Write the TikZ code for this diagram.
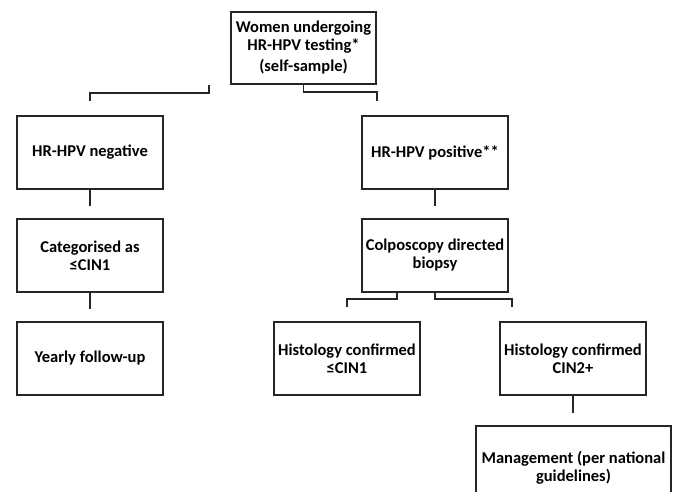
\documentclass[tikz,border=0pt]{standalone}
\usepackage{fontspec}
\setmainfont{Carlito}
\usetikzlibrary{positioning}

\begin{document}
\begin{tikzpicture}[x=1pt,y=-1pt,
  box/.style={draw=black!85, line width=1.6pt, fill=white, minimum width=146pt, minimum height=73pt, align=center, inner sep=1pt, font=\bfseries\fontsize{16.5}{18}\selectfont},
  link/.style={draw=black!85, line width=1.6pt}]
\clip (0,0) rectangle (681,491);

\node[box, minimum width=145pt, minimum height=72pt] (women) at (303.5,48) {Women undergoing\\HR-HPV testing*\\[3pt](self-sample)};
\node[box] (neg) at (90,152.5) {HR-HPV negative};
\node[box] (pos) at (435,152.5) {HR-HPV positive**};
\node[box] (cat) at (90,255.5) {Categorised as\\≤CIN1};
\node[box] (colpo) at (435,255.5) {Colposcopy directed\\biopsy};
\node[box] (yearly) at (90,358.5) {Yearly follow-up};
\node[box] (histlow) at (347,358.5) {Histology confirmed\\≤CIN1\hspace{14pt}};
\node[box] (histhigh) at (573,358.5) {Histology confirmed\\CIN2+};
\node[box, minimum width=195pt, minimum height=83pt] (manage) at (573.5,467.5) {Management (per national\\guidelines)};

\coordinate (womenleft) at (209,85);
\draw[link] (womenleft) |- ([yshift=22pt]neg.north) -- ([yshift=14pt]neg.north);
\draw[link] (women.south) |- ([xshift=-58pt,yshift=23pt]pos.north) -- ([xshift=-58pt,yshift=14pt]pos.north);
\draw[link] (neg.south) -- ++(0,16);
\draw[link] (cat.south) -- ++(0,16);
\draw[link] (pos.south) -- ++(0,16);
\draw[link] ([xshift=-38pt]colpo.south) |- ([yshift=22pt]histlow.north) -- ([yshift=14pt]histlow.north);
\draw[link] (colpo.south) |- ([xshift=-61pt,yshift=22pt]histhigh.north) -- ([xshift=-61pt,yshift=14pt]histhigh.north);
\draw[link] (histhigh.south) -- ++(0,17);
\end{tikzpicture}
\end{document}
